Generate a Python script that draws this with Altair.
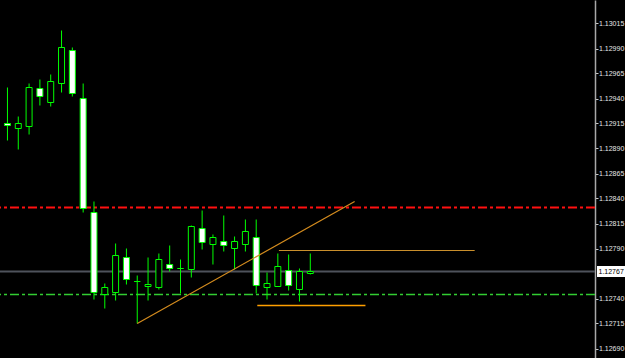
import altair as alt
import pandas as pd

# ---- candle data (bar index 0..28), EURUSD-like prices ----
opens = [1.12915, 1.12910, 1.12912, 1.12950, 1.12936, 1.12955, 1.12988, 1.12940,
         1.12826, 1.12744, 1.12746, 1.12781, 1.12757, 1.12752, 1.12751, 1.12774,
         1.12770, 1.12769, 1.12810, 1.12794, 1.12797, 1.12790, 1.12794, 1.12801,
         1.12751, 1.12752, 1.12768, 1.12749, 1.12765]
highs = [1.12951, 1.12922, 1.12955, 1.12959, 1.12964, 1.13008, 1.12991, 1.12955,
         1.12837, 1.12755, 1.12795, 1.12790, 1.12763, 1.12781, 1.12785, 1.12793,
         1.12779, 1.12813, 1.12828, 1.12804, 1.12823, 1.12802, 1.12819, 1.12819,
         1.12766, 1.12785, 1.12784, 1.12770, 1.12785]
lows = [1.12898, 1.12889, 1.12904, 1.12933, 1.12932, 1.12946, 1.12942, 1.12826,
        1.12739, 1.12730, 1.12738, 1.12754, 1.12715, 1.12738, 1.12749, 1.12767,
        1.12745, 1.12761, 1.12789, 1.12774, 1.12787, 1.12769, 1.12787, 1.12745,
        1.12739, 1.12752, 1.12748, 1.12737, 1.12764]
closes = [1.12913, 1.12915, 1.12951, 1.12942, 1.12957, 1.12991, 1.12945, 1.12830,
          1.12746, 1.12751, 1.12783, 1.12759, 1.12757, 1.12754, 1.12779, 1.12770,
          1.12770, 1.12812, 1.12796, 1.12801, 1.12793, 1.12797, 1.12807, 1.12753,
          1.12755, 1.12772, 1.12753, 1.12767, 1.12767]

# ---- chart objects ----
bid_price = 1.12767
red_level = 1.12831
green_level = 1.12744
trend_bars = [12, 32.1]
trend_prices = [1.12715, 1.12837]
upper_line = {"from": 25.1, "to": 43.2, "price": 1.12788}
lower_line = {"from": 23.1, "to": 33.1, "price": 1.12733}

price_ticks = [1.12690, 1.12715, 1.12740, 1.12790, 1.12815, 1.12840, 1.12865,
               1.12890, 1.12915, 1.12940, 1.12965, 1.12990, 1.13015, 1.13040]

candles = pd.DataFrame({
    "bar": list(range(len(opens))),
    "open": opens, "high": highs, "low": lows, "close": closes,
})
candles["fill"] = ["#ffffff" if c < o else "#000000" for o, c in zip(opens, closes)]

xs = alt.Scale(domain=[-2.5 / 11, 592.5 / 11], nice=False, zero=False)
ys = alt.Scale(domain=[1.126805, 1.130385], nice=False, zero=False)
FONT = "Liberation Sans"
FSIZE = 7
yax = alt.Axis(
    orient="right", values=price_ticks, format=".5f", title=None,
    grid=False, domainColor="#a8a8a8", domainWidth=1.5, tickColor="#c8c8c8",
    tickSize=3, tickWidth=1, labelColor="#e6e6e6", labelFont=FONT,
    labelFontSize=FSIZE, labelPadding=0.5, labelBound=False, labelOverlap=False,
    labelFlush=False,
)
LIME = "#00ff00"


def level_rule(price, color, dash=None, width=1.0):
    kw = {"stroke": color, "strokeWidth": width}
    if dash:
        kw["strokeDash"] = dash
    return alt.Chart(pd.DataFrame({"price": [price]})).mark_rule(**kw).encode(
        y=alt.Y("price:Q", scale=ys, axis=yax)
    )


red = level_rule(red_level, "#ff1010", [9, 3, 3, 3], 2)
green = level_rule(green_level, "#32cd32", [9, 3, 3, 3], 1.5)
bid = level_rule(bid_price, "#4e525b", None, 2)

wicks = alt.Chart(candles).mark_rule(color=LIME, strokeWidth=1).encode(
    x=alt.X("bar:Q", scale=xs, axis=None),
    y=alt.Y("high:Q", scale=ys, axis=yax),
    y2="low:Q",
)

bodies = alt.Chart(candles).mark_bar(size=6, stroke=LIME, strokeWidth=1).encode(
    x=alt.X("bar:Q", scale=xs, axis=None),
    y=alt.Y("open:Q", scale=ys, axis=yax),
    y2="close:Q",
    fill=alt.Fill("fill:N", scale=None),
)

trend = alt.Chart(pd.DataFrame({"bar": trend_bars, "price": trend_prices})).mark_line(
    stroke="#d48c1e", strokeWidth=1.2
).encode(
    x=alt.X("bar:Q", scale=xs, axis=None),
    y=alt.Y("price:Q", scale=ys, axis=yax),
)


def hline(spec, color, width):
    df = pd.DataFrame({"x0": [spec["from"]], "x1": [spec["to"]], "price": [spec["price"]]})
    return alt.Chart(df).mark_rule(stroke=color, strokeWidth=width).encode(
        x=alt.X("x0:Q", scale=xs, axis=None),
        x2="x1:Q",
        y=alt.Y("price:Q", scale=ys, axis=yax),
    )


upper = hline(upper_line, "#c98f2c", 1.2)
lower = hline(lower_line, "#ff9f00", 1.5)

bid_df = pd.DataFrame({"price": [bid_price], "label": [f"{bid_price:.5f}"]})
bid_box = alt.Chart(bid_df).mark_rule(stroke="#ffffff", strokeWidth=11).encode(
    x=alt.value(597), x2=alt.value(625),
    y=alt.Y("price:Q", scale=ys, axis=yax),
)
bid_text = alt.Chart(bid_df).mark_text(
    color="#000000", font=FONT, fontSize=FSIZE, align="left", baseline="middle"
).encode(
    x=alt.value(598.5),
    y=alt.Y("price:Q", scale=ys, axis=yax),
    text="label:N",
)

chart = alt.layer(red, green, bid, wicks, bodies, trend, upper, lower, bid_box, bid_text).properties(
    width=595, height=358, autosize="none",
    padding={"left": 0, "right": 30, "top": 0, "bottom": 0},
    background="#000000",
).configure_view(stroke=None)

chart.save("out.html", embed_options={"renderer": "svg", "actions": False})
